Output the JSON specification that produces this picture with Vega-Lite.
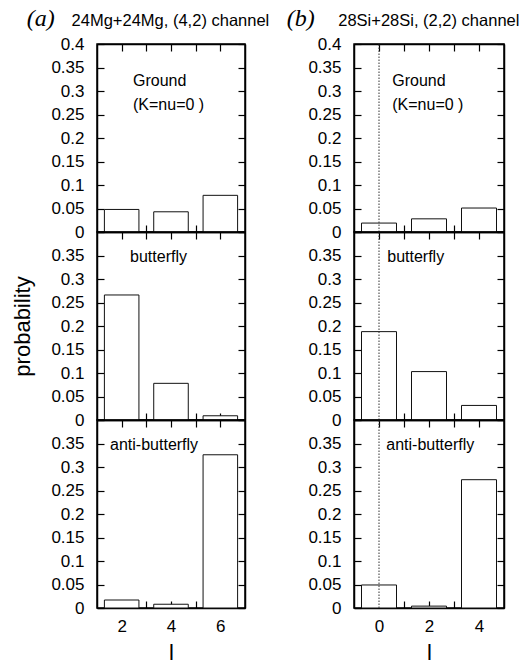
{
  "$schema": "https://vega.github.io/schema/vega-lite/v6.json",
  "background": "white",
  "padding": {"left": 11, "top": 6, "right": 5, "bottom": 0},
  "datasets": {
    "prob": [
      {"col": "a", "state": "Ground", "l": 2, "p": 0.048},
      {"col": "a", "state": "Ground", "l": 4, "p": 0.043},
      {"col": "a", "state": "Ground", "l": 6, "p": 0.078},
      {"col": "a", "state": "butterfly", "l": 2, "p": 0.266},
      {"col": "a", "state": "butterfly", "l": 4, "p": 0.078},
      {"col": "a", "state": "butterfly", "l": 6, "p": 0.009},
      {"col": "a", "state": "anti-butterfly", "l": 2, "p": 0.017},
      {"col": "a", "state": "anti-butterfly", "l": 4, "p": 0.008},
      {"col": "a", "state": "anti-butterfly", "l": 6, "p": 0.326},
      {"col": "b", "state": "Ground", "l": 0, "p": 0.019},
      {"col": "b", "state": "Ground", "l": 2, "p": 0.028},
      {"col": "b", "state": "Ground", "l": 4, "p": 0.051},
      {"col": "b", "state": "butterfly", "l": 0, "p": 0.188},
      {"col": "b", "state": "butterfly", "l": 2, "p": 0.103},
      {"col": "b", "state": "butterfly", "l": 4, "p": 0.031},
      {"col": "b", "state": "anti-butterfly", "l": 0, "p": 0.049},
      {"col": "b", "state": "anti-butterfly", "l": 2, "p": 0.004},
      {"col": "b", "state": "anti-butterfly", "l": 4, "p": 0.273}
    ]
  },
  "config": {
    "view": {"stroke": "black", "strokeWidth": 1.5},
    "axis": {
      "grid": false,
      "domainColor": "black",
      "domainWidth": 1.5,
      "tickColor": "black",
      "tickWidth": 1.2,
      "tickSize": -7,
      "labelColor": "black",
      "labelFont": "Liberation Sans",
      "labelFontSize": 17,
      "labelPadding": 20,
      "labelFlush": false,
      "labelOverlap": false,
      "titleColor": "black",
      "titleFont": "Liberation Sans",
      "titleFontWeight": "normal",
      "titleFontSize": 22
    },
    "text": {"font": "Liberation Sans", "fontSize": 16, "color": "black"}
  },
  "bounds": "flush",
  "spacing": 257,
  "hconcat": [
    {
      "bounds": "flush",
      "spacing": 0,
      "vconcat": [
        {
          "width": 148, "height": 188,
          "layer": [
            {
              "data": {"name": "prob"},
              "transform": [{"filter": "datum.col === 'a' && datum.state === 'Ground'"}, {"calculate": "datum.l - 0.7", "as": "l0"}, {"calculate": "datum.l + 0.7", "as": "l1"}],
              "mark": {"type": "rect", "fill": "white", "stroke": "#111", "strokeWidth": 1},
              "encoding": {
                "x": {"field": "l0", "type": "quantitative", "scale": {"domain": [1, 7], "nice": false, "zero": false}, "axis": {"orient": "bottom", "values": [2, 3, 4, 5, 6], "labels": false, "title": null}},
                "x2": {"field": "l1"},
                "y": {"field": "p", "type": "quantitative", "scale": {"domain": [0, 0.4], "nice": false}, "axis": {"orient": "left", "values": [0, 0.05, 0.1, 0.15, 0.2, 0.25, 0.3, 0.35, 0.4], "format": "~g", "title": null}}
              }
            },
            {
              "data": {"name": "prob"},
              "transform": [{"filter": "datum.col === 'a' && datum.state === 'Ground'"}],
              "mark": {"type": "point", "opacity": 0},
              "encoding": {
                "x": {"field": "l", "type": "quantitative", "axis": {"orient": "top", "values": [2, 3, 4, 5, 6], "labels": false, "title": null}},
                "y": {"field": "p", "type": "quantitative", "axis": {"orient": "right", "values": [0, 0.05, 0.1, 0.15, 0.2, 0.25, 0.3, 0.35, 0.4], "labels": false, "title": null}}
              }
            },
            {
              "data": {"values": [{}]},
              "mark": {"type": "text", "align": "left", "baseline": "middle", "lineHeight": 24},
              "encoding": {
                "x": {"datum": 2.46, "type": "quantitative", "axis": null},
                "y": {"datum": 0.321, "type": "quantitative", "axis": null},
                "text": {"value": ["Ground", "(K=nu=0 )"]}
              }
            },
            {
              "data": {"values": [{}]},
              "mark": {"type": "text", "align": "left", "baseline": "alphabetic", "font": "Liberation Serif", "fontStyle": "italic", "fontSize": 24},
              "encoding": {
                "x": {"datum": -1.85, "type": "quantitative", "axis": null},
                "y": {"datum": 0.438, "type": "quantitative", "axis": null},
                "text": {"value": "(a)"}
              }
            },
            {
              "data": {"values": [{}]},
              "mark": {"type": "text", "align": "left", "baseline": "alphabetic", "fontSize": 16.5},
              "encoding": {
                "x": {"datum": -0.03, "type": "quantitative", "axis": null},
                "y": {"datum": 0.438, "type": "quantitative", "axis": null},
                "text": {"value": "24Mg+24Mg, (4,2) channel"}
              }
            }
          ],
          "resolve": {"axis": {"x": "independent", "y": "independent"}}
        },
        {
          "width": 148, "height": 188,
          "layer": [
            {
              "data": {"name": "prob"},
              "transform": [{"filter": "datum.col === 'a' && datum.state === 'butterfly'"}, {"calculate": "datum.l - 0.7", "as": "l0"}, {"calculate": "datum.l + 0.7", "as": "l1"}],
              "mark": {"type": "rect", "fill": "white", "stroke": "#111", "strokeWidth": 1},
              "encoding": {
                "x": {"field": "l0", "type": "quantitative", "scale": {"domain": [1, 7], "nice": false, "zero": false}, "axis": {"orient": "bottom", "values": [2, 3, 4, 5, 6], "labels": false, "title": null}},
                "x2": {"field": "l1"},
                "y": {"field": "p", "type": "quantitative", "scale": {"domain": [0, 0.4], "nice": false}, "axis": {"orient": "left", "values": [0, 0.05, 0.1, 0.15, 0.2, 0.25, 0.3, 0.35, 0.4], "format": "~g", "labelExpr": "datum.value > 0.39 ? '' : datum.label", "title": "probability", "titlePadding": 16}}
              }
            },
            {
              "data": {"name": "prob"},
              "transform": [{"filter": "datum.col === 'a' && datum.state === 'butterfly'"}],
              "mark": {"type": "point", "opacity": 0},
              "encoding": {
                "x": {"field": "l", "type": "quantitative", "axis": {"orient": "top", "values": [2, 3, 4, 5, 6], "labels": false, "title": null}},
                "y": {"field": "p", "type": "quantitative", "axis": {"orient": "right", "values": [0, 0.05, 0.1, 0.15, 0.2, 0.25, 0.3, 0.35, 0.4], "labels": false, "title": null}}
              }
            },
            {
              "data": {"values": [{}]},
              "mark": {"type": "text", "align": "left", "baseline": "middle"},
              "encoding": {
                "x": {"datum": 2.34, "type": "quantitative", "axis": null},
                "y": {"datum": 0.347, "type": "quantitative", "axis": null},
                "text": {"value": "butterfly"}
              }
            }
          ],
          "resolve": {"axis": {"x": "independent", "y": "independent"}}
        },
        {
          "width": 148, "height": 188,
          "layer": [
            {
              "data": {"name": "prob"},
              "transform": [{"filter": "datum.col === 'a' && datum.state === 'anti-butterfly'"}, {"calculate": "datum.l - 0.7", "as": "l0"}, {"calculate": "datum.l + 0.7", "as": "l1"}],
              "mark": {"type": "rect", "fill": "white", "stroke": "#111", "strokeWidth": 1},
              "encoding": {
                "x": {"field": "l0", "type": "quantitative", "scale": {"domain": [1, 7], "nice": false, "zero": false}, "axis": {"orient": "bottom", "values": [2, 3, 4, 5, 6], "labelExpr": "datum.value % 2 === 0 ? datum.label : ''", "labelPadding": 17, "title": "l", "titlePadding": 8}},
                "x2": {"field": "l1"},
                "y": {"field": "p", "type": "quantitative", "scale": {"domain": [0, 0.4], "nice": false}, "axis": {"orient": "left", "values": [0, 0.05, 0.1, 0.15, 0.2, 0.25, 0.3, 0.35, 0.4], "format": "~g", "labelExpr": "datum.value > 0.39 ? '' : datum.label", "title": null}}
              }
            },
            {
              "data": {"name": "prob"},
              "transform": [{"filter": "datum.col === 'a' && datum.state === 'anti-butterfly'"}],
              "mark": {"type": "point", "opacity": 0},
              "encoding": {
                "x": {"field": "l", "type": "quantitative", "axis": {"orient": "top", "values": [2, 3, 4, 5, 6], "labels": false, "title": null}},
                "y": {"field": "p", "type": "quantitative", "axis": {"orient": "right", "values": [0, 0.05, 0.1, 0.15, 0.2, 0.25, 0.3, 0.35, 0.4], "labels": false, "title": null}}
              }
            },
            {
              "data": {"values": [{}]},
              "mark": {"type": "text", "align": "left", "baseline": "middle"},
              "encoding": {
                "x": {"datum": 1.53, "type": "quantitative", "axis": null},
                "y": {"datum": 0.347, "type": "quantitative", "axis": null},
                "text": {"value": "anti-butterfly"}
              }
            }
          ],
          "resolve": {"axis": {"x": "independent", "y": "independent"}}
        }
      ]
    },
    {
      "bounds": "flush",
      "spacing": 0,
      "vconcat": [
        {
          "width": 150, "height": 188,
          "layer": [
            {
              "data": {"name": "prob"},
              "transform": [{"filter": "datum.col === 'b' && datum.state === 'Ground'"}, {"calculate": "datum.l - 0.7", "as": "l0"}, {"calculate": "datum.l + 0.7", "as": "l1"}],
              "mark": {"type": "rect", "fill": "white", "stroke": "#111", "strokeWidth": 1},
              "encoding": {
                "x": {"field": "l0", "type": "quantitative", "scale": {"domain": [-1, 5], "nice": false, "zero": false}, "axis": {"orient": "bottom", "values": [0, 1, 2, 3, 4], "labels": false, "title": null}},
                "x2": {"field": "l1"},
                "y": {"field": "p", "type": "quantitative", "scale": {"domain": [0, 0.4], "nice": false}, "axis": {"orient": "left", "values": [0, 0.05, 0.1, 0.15, 0.2, 0.25, 0.3, 0.35, 0.4], "format": "~g", "title": null}}
              }
            },
            {
              "data": {"name": "prob"},
              "transform": [{"filter": "datum.col === 'b' && datum.state === 'Ground'"}],
              "mark": {"type": "point", "opacity": 0},
              "encoding": {
                "x": {"field": "l", "type": "quantitative", "axis": {"orient": "top", "values": [0, 1, 2, 3, 4], "labels": false, "title": null}},
                "y": {"field": "p", "type": "quantitative", "axis": {"orient": "right", "values": [0, 0.05, 0.1, 0.15, 0.2, 0.25, 0.3, 0.35, 0.4], "labels": false, "title": null}}
              }
            },
            {
              "data": {"values": [{}]},
              "mark": {"type": "text", "align": "left", "baseline": "middle", "lineHeight": 24},
              "encoding": {
                "x": {"datum": 0.53, "type": "quantitative", "axis": null},
                "y": {"datum": 0.321, "type": "quantitative", "axis": null},
                "text": {"value": ["Ground", "(K=nu=0 )"]}
              }
            },
            {
              "data": {"values": [{}]},
              "mark": {"type": "rule", "strokeDash": [1.5, 1.5], "color": "#333", "strokeWidth": 1},
              "encoding": {
                "x": {"datum": 0, "type": "quantitative", "axis": null},
                "y": {"datum": 0, "type": "quantitative", "axis": null},
                "y2": {"datum": 0.4}
              }
            },
            {
              "data": {"values": [{}]},
              "mark": {"type": "text", "align": "left", "baseline": "alphabetic", "font": "Liberation Serif", "fontStyle": "italic", "fontSize": 24},
              "encoding": {
                "x": {"datum": -3.69, "type": "quantitative", "axis": null},
                "y": {"datum": 0.438, "type": "quantitative", "axis": null},
                "text": {"value": "(b)"}
              }
            },
            {
              "data": {"values": [{}]},
              "mark": {"type": "text", "align": "left", "baseline": "alphabetic", "fontSize": 16.5},
              "encoding": {
                "x": {"datum": -1.63, "type": "quantitative", "axis": null},
                "y": {"datum": 0.438, "type": "quantitative", "axis": null},
                "text": {"value": "28Si+28Si, (2,2) channel"}
              }
            }
          ],
          "resolve": {"axis": {"x": "independent", "y": "independent"}}
        },
        {
          "width": 150, "height": 188,
          "layer": [
            {
              "data": {"name": "prob"},
              "transform": [{"filter": "datum.col === 'b' && datum.state === 'butterfly'"}, {"calculate": "datum.l - 0.7", "as": "l0"}, {"calculate": "datum.l + 0.7", "as": "l1"}],
              "mark": {"type": "rect", "fill": "white", "stroke": "#111", "strokeWidth": 1},
              "encoding": {
                "x": {"field": "l0", "type": "quantitative", "scale": {"domain": [-1, 5], "nice": false, "zero": false}, "axis": {"orient": "bottom", "values": [0, 1, 2, 3, 4], "labels": false, "title": null}},
                "x2": {"field": "l1"},
                "y": {"field": "p", "type": "quantitative", "scale": {"domain": [0, 0.4], "nice": false}, "axis": {"orient": "left", "values": [0, 0.05, 0.1, 0.15, 0.2, 0.25, 0.3, 0.35, 0.4], "format": "~g", "labelExpr": "datum.value > 0.39 ? '' : datum.label", "title": null}}
              }
            },
            {
              "data": {"name": "prob"},
              "transform": [{"filter": "datum.col === 'b' && datum.state === 'butterfly'"}],
              "mark": {"type": "point", "opacity": 0},
              "encoding": {
                "x": {"field": "l", "type": "quantitative", "axis": {"orient": "top", "values": [0, 1, 2, 3, 4], "labels": false, "title": null}},
                "y": {"field": "p", "type": "quantitative", "axis": {"orient": "right", "values": [0, 0.05, 0.1, 0.15, 0.2, 0.25, 0.3, 0.35, 0.4], "labels": false, "title": null}}
              }
            },
            {
              "data": {"values": [{}]},
              "mark": {"type": "text", "align": "left", "baseline": "middle"},
              "encoding": {
                "x": {"datum": 0.33, "type": "quantitative", "axis": null},
                "y": {"datum": 0.347, "type": "quantitative", "axis": null},
                "text": {"value": "butterfly"}
              }
            },
            {
              "data": {"values": [{}]},
              "mark": {"type": "rule", "strokeDash": [1.5, 1.5], "color": "#333", "strokeWidth": 1},
              "encoding": {
                "x": {"datum": 0, "type": "quantitative", "axis": null},
                "y": {"datum": 0, "type": "quantitative", "axis": null},
                "y2": {"datum": 0.4}
              }
            }
          ],
          "resolve": {"axis": {"x": "independent", "y": "independent"}}
        },
        {
          "width": 150, "height": 188,
          "layer": [
            {
              "data": {"name": "prob"},
              "transform": [{"filter": "datum.col === 'b' && datum.state === 'anti-butterfly'"}, {"calculate": "datum.l - 0.7", "as": "l0"}, {"calculate": "datum.l + 0.7", "as": "l1"}],
              "mark": {"type": "rect", "fill": "white", "stroke": "#111", "strokeWidth": 1},
              "encoding": {
                "x": {"field": "l0", "type": "quantitative", "scale": {"domain": [-1, 5], "nice": false, "zero": false}, "axis": {"orient": "bottom", "values": [0, 1, 2, 3, 4], "labelExpr": "datum.value % 2 === 0 ? datum.label : ''", "labelPadding": 17, "title": "l", "titlePadding": 8}},
                "x2": {"field": "l1"},
                "y": {"field": "p", "type": "quantitative", "scale": {"domain": [0, 0.4], "nice": false}, "axis": {"orient": "left", "values": [0, 0.05, 0.1, 0.15, 0.2, 0.25, 0.3, 0.35, 0.4], "format": "~g", "labelExpr": "datum.value > 0.39 ? '' : datum.label", "title": null}}
              }
            },
            {
              "data": {"name": "prob"},
              "transform": [{"filter": "datum.col === 'b' && datum.state === 'anti-butterfly'"}],
              "mark": {"type": "point", "opacity": 0},
              "encoding": {
                "x": {"field": "l", "type": "quantitative", "axis": {"orient": "top", "values": [0, 1, 2, 3, 4], "labels": false, "title": null}},
                "y": {"field": "p", "type": "quantitative", "axis": {"orient": "right", "values": [0, 0.05, 0.1, 0.15, 0.2, 0.25, 0.3, 0.35, 0.4], "labels": false, "title": null}}
              }
            },
            {
              "data": {"values": [{}]},
              "mark": {"type": "text", "align": "left", "baseline": "middle"},
              "encoding": {
                "x": {"datum": 0.29, "type": "quantitative", "axis": null},
                "y": {"datum": 0.347, "type": "quantitative", "axis": null},
                "text": {"value": "anti-butterfly"}
              }
            },
            {
              "data": {"values": [{}]},
              "mark": {"type": "rule", "strokeDash": [1.5, 1.5], "color": "#333", "strokeWidth": 1},
              "encoding": {
                "x": {"datum": 0, "type": "quantitative", "axis": null},
                "y": {"datum": 0, "type": "quantitative", "axis": null},
                "y2": {"datum": 0.4}
              }
            }
          ],
          "resolve": {"axis": {"x": "independent", "y": "independent"}}
        }
      ]
    }
  ]
}
